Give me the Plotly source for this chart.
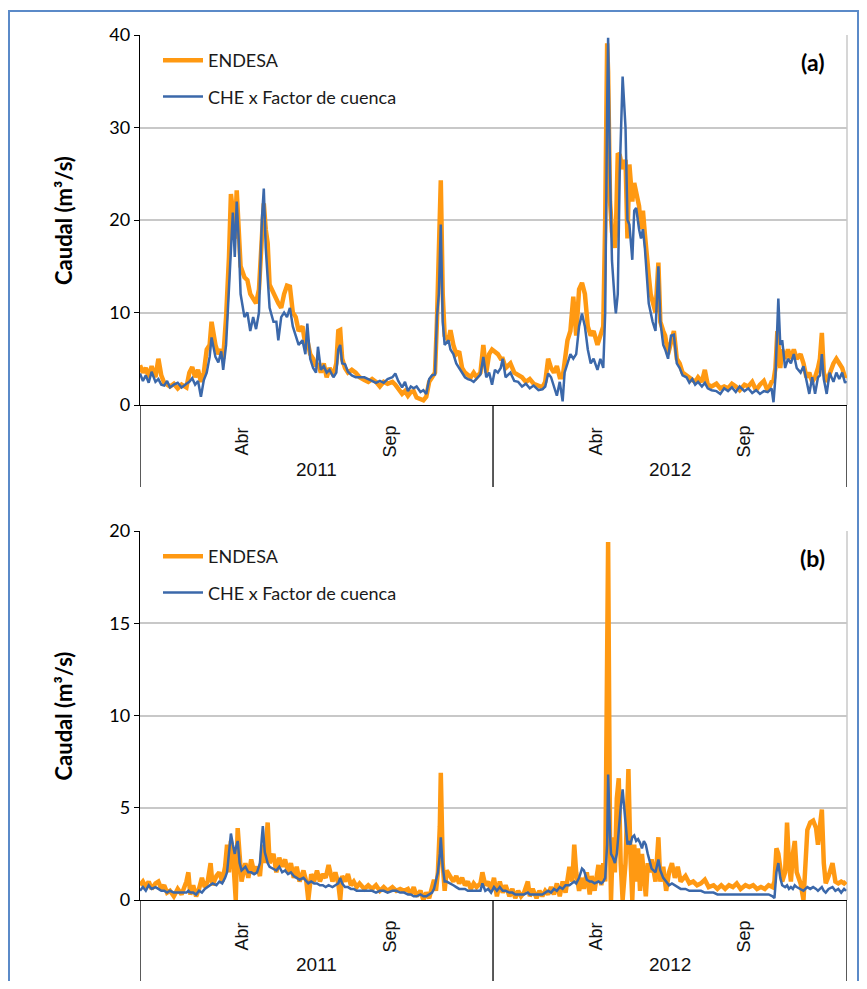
import plotly.graph_objects as go
import pandas as pd

START = pd.Timestamp("2011-01-01")

# panel (a): days since 2011-01-01, flow in m3/s
a_days = [0, 3, 6, 9, 12, 16, 19, 22, 25, 28, 31, 35, 39, 43, 48, 51, 54, 57, 60, 63,
          66, 69, 72, 74, 78, 81, 84, 86, 89, 92, 94, 96, 98, 100, 102, 104, 108, 111, 114, 117,
          120, 123, 126, 128, 130, 132, 134, 138, 141, 143, 146, 149, 152, 155, 158, 161, 164, 168, 171, 173,
          176, 179, 182, 184, 187, 190, 193, 196, 200, 203, 205, 207, 209, 212, 215, 219, 223, 227, 232, 236,
          240, 244, 248, 252, 256, 261, 264, 267, 271, 274, 277, 280, 283, 286, 290, 293, 296, 299, 302, 305,
          307, 309, 311, 313, 315, 319, 321, 324, 327, 330, 333, 336, 339, 342, 345, 348, 352, 355, 358, 361,
          364, 367, 370, 373, 375, 378, 383, 387, 391, 395, 399, 403, 407, 412, 416, 419, 422, 425, 428, 431,
          434, 437, 439, 442, 445, 448, 451, 454, 457, 460, 463, 466, 469, 473, 476, 479, 481, 483, 484, 486,
          488, 491, 492, 494, 496, 499, 502, 504, 506, 508, 509, 511, 513, 516, 518, 520, 522, 524, 526, 528,
          530, 533, 536, 538, 541, 543, 546, 549, 552, 555, 558, 561, 565, 568, 571, 574, 577, 581, 584, 587,
          591, 596, 600, 604, 608, 612, 616, 620, 625, 629, 633, 637, 641, 645, 649, 653, 655, 657, 659, 660,
          662, 664, 667, 670, 673, 676, 679, 683, 686, 689, 692, 695, 698, 701, 703, 705, 707, 710, 713, 717,
          720, 723, 726, 729, 730]
a_endesa = [4.3, 3.5, 4.0, 3.0, 4.2, 3.0, 5.0, 3.2, 2.4, 2.2, 2.0, 2.3, 1.8, 2.2, 1.9, 3.5, 4.1, 3.0, 3.8, 2.5,
            3.5, 6.0, 6.5, 9.0, 6.5, 5.5, 6.0, 5.0, 9.5, 16.0, 22.8, 21.0, 18.0, 23.2, 19.5, 15.0, 13.8, 13.5, 12.0, 11.5,
            11.0, 12.5, 19.0, 21.8, 19.0, 17.5, 13.0, 12.0, 11.5, 11.0, 10.5, 12.0, 12.9, 12.8, 10.0, 9.5, 8.0, 8.5, 6.5, 7.0,
            5.5, 5.0, 4.2, 4.5, 3.5, 4.5, 3.0, 4.0, 3.2, 4.5, 8.0, 8.1, 5.0, 4.0, 3.5, 3.8, 3.5, 3.0, 2.7, 2.5,
            2.8, 2.5, 2.0, 2.5, 2.3, 2.5, 2.2, 1.8, 1.2, 1.5, 1.0, 1.4, 1.5, 0.8, 0.7, 0.5, 0.9, 2.5, 3.0, 3.5,
            9.0, 15.0, 24.3, 12.0, 7.5, 7.0, 8.1, 6.5, 5.5, 5.8, 4.0, 3.5, 3.2, 3.0, 3.5, 3.0, 3.5, 6.5, 3.5, 5.5,
            6.0, 5.8, 5.5, 5.0, 5.0, 4.0, 4.5, 3.5, 3.3, 3.0, 2.5, 2.8, 2.3, 2.0, 1.9, 2.5, 5.0, 4.0, 3.5, 4.2,
            3.0, 3.0, 4.5, 7.0, 8.0, 11.7, 7.5, 12.5, 13.2, 12.0, 8.5, 7.5, 8.0, 6.5, 7.5, 8.5, 20.0, 39.1, 36.0, 22.0,
            18.7, 17.0, 18.5, 27.2, 27.0, 25.5, 26.5, 18.0, 26.0, 24.0, 22.0, 24.0, 23.0, 21.5, 19.0, 21.0, 18.5, 15.5, 14.0, 12.0,
            11.0, 10.0, 15.4, 9.0, 8.0, 7.5, 5.5, 7.0, 8.0, 5.0, 4.5, 3.5, 3.2, 3.0, 2.7, 2.5, 3.0, 2.5, 3.8, 2.2,
            2.0, 2.3, 1.8, 2.0, 1.8, 2.3, 2.0, 1.6, 2.2, 2.0, 2.5, 1.6, 2.2, 2.6, 1.5, 2.5, 2.6, 4.0, 8.0, 7.0,
            4.0, 6.0, 5.0, 6.0, 5.0, 6.0, 5.0, 5.5, 4.5, 3.0, 3.5, 2.5, 3.0, 4.0, 5.0, 7.8, 3.5, 2.5, 3.5, 4.5,
            5.0, 4.5, 4.0, 3.0, 3.2]
a_che = [3.4, 2.6, 3.2, 2.4, 3.6, 2.5, 2.8, 2.2, 2.1, 2.6, 1.9, 2.2, 2.4, 1.9, 2.3, 2.5, 2.9, 2.2, 2.6, 0.9,
         2.7, 3.5, 5.2, 7.3, 5.2, 4.6, 5.8, 3.8, 6.5, 13.0, 17.0, 20.8, 16.0, 22.0, 18.0, 12.0, 9.5, 10.0, 8.0, 9.5,
         8.2, 10.0, 20.0, 23.4, 17.0, 14.0, 10.5, 9.0, 9.0, 7.0, 9.5, 10.0, 9.5, 10.5, 8.5, 7.5, 6.5, 7.0, 5.5, 8.8,
         5.0, 4.0, 3.5, 6.3, 3.8, 4.2, 3.5, 3.8, 3.0, 3.5, 6.0, 6.5, 4.5, 4.4, 3.6, 3.2, 3.0, 3.0, 3.0, 2.8,
         2.6, 2.4, 2.6, 2.4, 2.8, 3.0, 3.4, 2.6, 1.9, 2.5, 1.5, 2.0, 1.8, 2.0, 1.4, 1.6, 1.2, 2.8, 3.2, 3.3,
         9.5, 12.0, 19.5, 9.0, 6.5, 7.0, 6.0, 5.5, 4.5, 4.0, 3.5, 3.0, 2.8, 2.7, 2.5, 2.8, 3.3, 5.2, 3.0, 3.5,
         2.2, 3.8, 3.5, 4.0, 5.0, 3.0, 3.5, 2.6, 2.5, 2.0, 2.3, 1.8, 2.1, 1.6, 1.7, 2.0, 3.4, 3.0, 2.0, 1.0,
         2.5, 0.4, 3.5, 4.5, 5.5, 5.0, 5.5, 8.5, 9.9, 8.5, 6.0, 4.5, 5.0, 3.8, 5.0, 4.0, 10.0, 32.0, 39.7, 25.0,
         15.6, 11.0, 9.9, 12.0, 25.0, 35.5, 30.0, 20.0, 19.5, 17.0, 15.7, 21.0, 21.3, 19.0, 18.0, 19.0, 17.0, 14.0, 11.0, 10.0,
         9.0, 8.0, 15.0, 9.0, 6.5, 6.0, 5.0, 7.5, 7.6, 4.5, 4.0, 3.2, 3.0, 2.4, 2.8, 2.2, 2.5, 2.0, 2.4, 1.8,
         1.6, 1.5, 1.2, 1.8, 1.5, 1.9, 1.4, 2.0, 1.5, 1.8, 1.3, 1.6, 1.2, 1.5, 1.4, 1.8, 0.3, 3.0, 9.0, 11.5,
         6.5, 7.0, 4.0, 5.0, 4.5, 5.5, 4.0, 3.5, 4.2, 2.5, 1.2, 3.0, 1.2, 3.0, 3.2, 5.5, 2.8, 1.2, 3.5, 2.5,
         3.5, 2.8, 3.5, 2.4, 2.6]

# panel (b)
b_days = [0, 3, 6, 9, 12, 16, 19, 22, 25, 28, 31, 35, 39, 43, 48, 50, 52, 55, 58, 61,
          64, 67, 70, 73, 75, 79, 82, 85, 88, 90, 92, 94, 96, 98, 99, 101, 103, 105, 109, 112,
          115, 118, 121, 124, 126, 127, 129, 132, 134, 138, 141, 144, 147, 150, 153, 156, 159, 162, 165, 169,
          172, 174, 177, 180, 183, 186, 189, 192, 195, 199, 202, 205, 207, 209, 212, 215, 218, 221, 224, 227,
          232, 236, 240, 244, 248, 252, 256, 261, 265, 269, 273, 277, 280, 283, 286, 290, 293, 296, 299, 302,
          304, 306, 308, 310, 311, 313, 315, 317, 321, 324, 327, 330, 333, 336, 339, 342, 345, 348, 352, 354,
          357, 360, 363, 366, 369, 372, 375, 378, 382, 385, 388, 391, 394, 397, 401, 403, 406, 410, 413, 416,
          419, 422, 425, 428, 431, 434, 437, 440, 444, 447, 449, 451, 454, 457, 459, 462, 465, 467, 470, 474,
          477, 479, 481, 483, 484, 486, 487, 489, 491, 493, 495, 497, 499, 502, 504, 505, 507, 509, 511, 513,
          515, 517, 519, 521, 523, 525, 527, 529, 533, 536, 538, 541, 544, 547, 550, 553, 556, 559, 564, 568,
          572, 576, 580, 584, 588, 593, 597, 601, 605, 609, 613, 617, 621, 626, 630, 634, 638, 642, 646, 650,
          654, 656, 658, 660, 662, 664, 667, 669, 671, 673, 675, 677, 679, 683, 686, 688, 690, 693, 696, 699,
          701, 703, 705, 707, 709, 712, 716, 719, 722, 725, 728, 730]
b_endesa = [0.8, 1.0, 0.7, 1.0, 0.6, 0.9, 1.0, 0.6, 0.8, 0.4, 0.5, 0.2, 0.6, 0.3, 1.0, 1.5, 0.3, 0.8, 0.2, 0.6,
            1.2, 0.7, 1.0, 2.0, 0.8, 1.3, 1.5, 1.0, 1.8, 3.0, 1.5, 3.2, 2.5, 1.0, 0.0, 3.9, 2.5, 1.0, 2.0, 1.2,
            2.2, 1.5, 1.8, 1.3, 2.5, 3.0, 2.0, 4.2, 2.0, 2.5, 1.5, 2.3, 1.8, 2.2, 1.5, 2.0, 1.2, 1.8, 1.0, 1.6,
            1.0, 0.0, 1.4, 1.0, 1.6, 1.0, 1.4, 1.2, 1.9, 1.0, 1.5, 0.9, 0.0, 1.3, 1.0, 1.4, 0.8, 1.0, 0.7, 0.9,
            0.6, 0.8, 0.6, 0.8, 0.5, 0.7, 0.5, 0.7, 0.5, 0.6, 0.5, 0.6, 0.3, 0.7, 0.2, 0.5, 0.0, 0.4, 0.1, 0.6,
            1.1, 0.5, 1.5, 4.0, 6.9, 2.0, 0.5, 1.6, 1.2, 1.0, 1.3, 0.9, 1.2, 0.8, 1.0, 0.6, 0.9, 0.7, 0.9, 1.5,
            0.8, 1.0, 0.5, 1.2, 0.2, 1.0, 0.4, 0.8, 0.2, 0.6, 0.1, 0.5, 0.2, 0.4, 1.0, 0.2, 0.6, 0.1, 0.5, 0.2,
            0.5, 0.3, 0.7, 0.3, 0.9, 0.2, 1.0, 0.4, 1.8, 1.0, 3.0, 1.5, 0.5, 1.2, 0.6, 1.5, 0.3, 1.3, 0.5, 1.9,
            0.8, 2.0, 1.0, 10.0, 19.4, 3.0, 0.0, 3.4, 1.5, 5.5, 6.6, 2.0, 0.0, 2.0, 5.0, 7.1, 2.5, 0.0, 3.0, 1.0,
            2.8, 0.5, 2.5, 1.5, 0.2, 2.0, 1.5, 2.2, 1.0, 3.4, 1.0, 1.8, 0.5, 1.5, 2.0, 1.2, 1.8, 1.0, 1.3, 0.9,
            1.0, 0.8, 0.9, 1.1, 0.7, 0.8, 0.6, 0.8, 0.6, 0.8, 0.7, 0.9, 0.6, 0.8, 0.7, 0.8, 0.6, 0.7, 0.6, 0.8,
            0.7, 1.0, 2.8, 2.5, 1.5, 1.0, 1.5, 4.2, 2.0, 1.0, 2.5, 3.2, 1.5, 0.9, 0.0, 2.0, 3.8, 4.2, 4.3, 3.9,
            3.0, 4.0, 4.9, 2.0, 0.9, 1.3, 2.0, 1.0, 0.9, 1.0, 0.9, 1.0]
b_che = [0.5, 0.7, 0.5, 0.8, 0.6, 0.7, 0.6, 0.5, 0.5, 0.4, 0.5, 0.4, 0.4, 0.4, 0.4, 0.5, 0.4, 0.4, 0.3, 0.5,
         0.4, 0.6, 0.7, 0.8, 0.9, 0.8, 1.0, 0.9, 1.2, 1.5, 2.5, 3.6, 3.0, 2.5, 2.8, 3.2, 2.0, 1.6, 1.8, 1.5,
         1.5, 1.4, 1.5, 2.0, 3.4, 4.0, 2.6, 2.0, 1.8, 1.7, 1.6, 1.8, 1.5, 1.6, 1.4, 1.5, 1.3, 1.2, 1.1, 1.2,
         1.0, 0.9, 1.0, 0.9, 0.9, 0.8, 0.8, 0.7, 0.8, 0.7, 0.8, 0.9, 1.2, 0.9, 0.7, 0.7, 0.6, 0.6, 0.5, 0.5,
         0.5, 0.5, 0.5, 0.4, 0.5, 0.5, 0.4, 0.5, 0.5, 0.4, 0.4, 0.3, 0.3, 0.2, 0.2, 0.3, 0.2, 0.2, 0.3, 0.4,
         0.6, 1.0, 1.5, 2.5, 3.4, 1.8, 1.0, 1.0, 0.9, 0.8, 0.7, 0.6, 0.6, 0.6, 0.5, 0.5, 0.5, 0.5, 0.5, 0.9,
         0.5, 0.6, 0.4, 0.7, 0.5, 0.7, 0.5, 0.5, 0.4, 0.4, 0.3, 0.3, 0.3, 0.3, 0.4, 0.3, 0.3, 0.3, 0.3, 0.3,
         0.4, 0.5, 0.4, 0.6, 0.5, 0.7, 0.6, 0.8, 0.8, 0.9, 1.0, 0.9, 1.2, 1.7, 1.6, 1.1, 1.0, 1.0, 0.9, 1.0,
         0.9, 1.0, 1.2, 3.0, 6.8, 3.5, 2.5, 2.3, 2.0, 2.5, 4.0, 5.0, 6.0, 4.0, 3.0, 3.2, 3.0, 3.4, 3.5, 3.2,
         3.3, 3.1, 2.8, 3.2, 3.0, 2.5, 2.0, 1.7, 1.5, 2.2, 1.6, 1.2, 1.0, 0.8, 0.9, 0.8, 0.7, 0.6, 0.6, 0.5,
         0.5, 0.5, 0.5, 0.4, 0.4, 0.4, 0.3, 0.3, 0.3, 0.3, 0.3, 0.3, 0.3, 0.3, 0.3, 0.3, 0.3, 0.3, 0.3, 0.3,
         0.2, 0.1, 1.5, 2.0, 1.2, 0.8, 0.7, 0.8, 0.6, 0.7, 0.6, 0.8, 0.7, 0.6, 0.5, 0.6, 0.7, 0.6, 0.7, 0.6,
         0.5, 0.6, 0.7, 0.5, 0.4, 0.6, 0.7, 0.5, 0.6, 0.4, 0.6, 0.5]

month_labels = ["Abr", "Sep", "Abr", "Sep"]
month_dates = ["2011-04-16", "2011-09-16", "2012-04-16", "2012-09-16"]
year_labels = ["2011", "2012"]
year_dates = ["2011-07-02", "2012-07-02"]
year_bounds = ["2011-01-01", "2012-01-01", "2013-01-01"]

ORANGE = "#FF9912"
BLUE = "#3B68AA"
# page body has an 8px margin, so the figure is drawn 8px in from the window edges
OFF = 8
W, H = 867 - 2 * OFF, 989 - 2 * OFF


def to_dates(days):
    return START + pd.to_timedelta(days, unit="D")


def px(p):
    return (p - OFF) / W


def py(p):
    return 1 - (p - OFF) / H


fig = go.Figure()

panels = [
    # x axis, y axis, legend, days, endesa, che, top px, bottom px, tag
    ("x", "y", "legend", a_days, a_endesa, a_che, 35, 405, "(a)"),
    ("x2", "y2", "legend2", b_days, b_endesa, b_che, 531, 900, "(b)"),
]

annotations = []
shapes = []
for xa, ya, leg, days, endesa, che, top, bot, tag in panels:
    d = to_dates(days)
    fig.add_trace(go.Scatter(x=d, y=endesa, name="ENDESA", mode="lines", xaxis=xa, yaxis=ya,
                             line=dict(color=ORANGE, width=4.5), legend=leg, legendgroup=leg + "e"))
    fig.add_trace(go.Scatter(x=d, y=che, name="CHE x Factor de cuenca", mode="lines", xaxis=xa, yaxis=ya,
                             line=dict(color=BLUE, width=2.5), legend=leg, legendgroup=leg + "c"))

    # month and year labels under the axis
    for lab, dt in zip(month_labels, month_dates):
        annotations.append(dict(x=dt, xref=xa, y=py(bot + 37), yref="paper", text=lab, textangle=-90,
                                showarrow=False, xanchor="center", yanchor="middle",
                                font=dict(family="Liberation Sans Narrow, Liberation Sans", size=18, color="#111")))
    for lab, dt in zip(year_labels, year_dates):
        annotations.append(dict(x=dt, xref=xa, y=py(bot + 64), yref="paper", text=lab,
                                showarrow=False, xanchor="center", yanchor="middle",
                                font=dict(family="Liberation Sans Narrow, Liberation Sans", size=19, color="#111")))
    for dt in year_bounds:
        shapes.append(dict(type="line", xref=xa, x0=dt, x1=dt, yref="paper", y0=py(bot), y1=py(bot + 82),
                           line=dict(color="black", width=1.3)))

    # right border of plot area
    shapes.append(dict(type="line", xref=xa + " domain", x0=1, x1=1, yref=ya + " domain", y0=0, y1=1,
                       line=dict(color="#C8C8C8", width=1.5), layer="below"))

    annotations.append(dict(x=px(63), y=py((top + bot) / 2), xref="paper", yref="paper",
                            text="<b>Caudal (m³/s)</b>", showarrow=False, textangle=-90,
                            xanchor="center", yanchor="middle",
                            font=dict(family="Lato", size=22, color="black")))
    annotations.append(dict(x=px(812), y=py(top + 27), xref="paper", yref="paper", text="<b>" + tag + "</b>",
                            showarrow=False, xanchor="center", yanchor="middle",
                            font=dict(family="Lato", size=23, color="black")))

# outer frame
shapes.append(dict(type="rect", xref="paper", yref="paper", x0=px(9), x1=px(858), y0=-0.05, y1=py(11),
                   line=dict(color="#5B8AC8", width=2)))

xcommon = dict(type="date", range=["2011-01-01", "2013-01-01"], showticklabels=False, ticks="",
               showgrid=False, showline=True, linecolor="black", linewidth=1.3, zeroline=False,
               automargin=False)
ycommon = dict(showgrid=True, gridcolor="#C8C8C8", gridwidth=1.5, showline=True,
               linecolor="black", linewidth=1.3, ticks="outside", ticklen=5, tickcolor="black",
               zeroline=False, automargin=False, tickfont=dict(family="Lato", size=18, color="black"))

legcommon = dict(xanchor="left", yanchor="top", bgcolor="rgba(0,0,0,0)", tracegroupgap=10,
                 font=dict(family="Lato", size=18, color="#1a1a1a"), itemwidth=40)

fig.update_layout(
    width=W, height=H,
    margin=dict(l=0, r=0, t=0, b=0),
    paper_bgcolor="white", plot_bgcolor="white",
    xaxis=dict(domain=[px(140), px(847)], anchor="y", **xcommon),
    yaxis=dict(domain=[py(405), py(35)], anchor="x", range=[0, 40], tickvals=[0, 10, 20, 30, 40], **ycommon),
    xaxis2=dict(domain=[px(140), px(847)], anchor="y2", **xcommon),
    yaxis2=dict(domain=[py(900), py(531)], anchor="x2", range=[0, 20], tickvals=[0, 5, 10, 15, 20], **ycommon),
    legend=dict(x=px(158), y=py(42), **legcommon),
    legend2=dict(x=px(158), y=py(538), **legcommon),
    annotations=annotations,
    shapes=shapes,
    showlegend=True,
)

fig.write_html("out.html")
